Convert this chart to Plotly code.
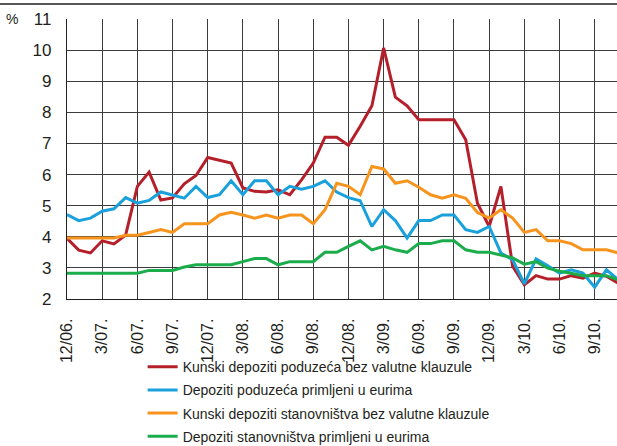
import plotly.graph_objects as go

# Monthly observations, 12/2006 .. 11/2010 (index 0 = 12/06)
months = list(range(48))
tick_pos = list(range(0, 46, 3))
tick_labels = ["12/06.", "3/07.", "6/07.", "9/07.", "12/07.", "3/08.", "6/08.", "9/08.",
               "12/08.", "3/09.", "6/09.", "9/09.", "12/09.", "3/10.", "6/10.", "9/10."]

kunski_poduzeca = [3.95, 3.57, 3.48, 3.87, 3.77, 4.05, 5.62, 6.08, 5.18, 5.25,
                   5.70, 5.97, 6.55, 6.45, 6.37, 5.57, 5.46, 5.44, 5.51, 5.35,
                   5.83, 6.37, 7.20, 7.20, 6.94, 7.55, 8.21, 10.07, 8.49, 8.21,
                   7.76, 7.76, 7.76, 7.76, 7.12, 5.08, 4.33, 5.62, 3.05, 2.46,
                   2.75, 2.64, 2.64, 2.75, 2.67, 2.83, 2.73, 2.51]
euro_poduzeca = [4.71, 4.52, 4.60, 4.82, 4.90, 5.26, 5.08, 5.17, 5.44, 5.35,
                 5.24, 5.62, 5.26, 5.35, 5.80, 5.35, 5.80, 5.80, 5.35, 5.62,
                 5.53, 5.62, 5.80, 5.44, 5.26, 5.16, 4.33, 4.87, 4.52, 3.96,
                 4.52, 4.52, 4.70, 4.70, 4.23, 4.14, 4.33, 3.48, 3.26, 2.49,
                 3.29, 3.07, 2.83, 2.94, 2.83, 2.38, 2.94, 2.62]
kunski_stanovnistva = [3.96, 3.96, 3.96, 3.96, 3.96, 4.05, 4.05, 4.14, 4.23, 4.14,
                       4.42, 4.42, 4.42, 4.70, 4.79, 4.70, 4.60, 4.70, 4.60, 4.70,
                       4.70, 4.42, 4.87, 5.72, 5.62, 5.35, 6.26, 6.18, 5.72, 5.80,
                       5.59, 5.35, 5.24, 5.35, 5.24, 4.78, 4.60, 4.87, 4.60, 4.14,
                       4.23, 3.87, 3.87, 3.78, 3.58, 3.58, 3.58, 3.48]
euro_stanovnistva = [2.83, 2.83, 2.83, 2.83, 2.83, 2.83, 2.83, 2.92, 2.92, 2.92,
                     3.03, 3.10, 3.10, 3.10, 3.10, 3.20, 3.30, 3.30, 3.10, 3.20,
                     3.20, 3.20, 3.50, 3.50, 3.69, 3.87, 3.58, 3.69, 3.58, 3.50,
                     3.78, 3.78, 3.87, 3.87, 3.58, 3.50, 3.50, 3.42, 3.32, 3.12,
                     3.20, 2.99, 2.89, 2.83, 2.75, 2.75, 2.75, 2.62]

series = [
    ("Kunski depoziti poduzeća bez valutne klauzule", kunski_poduzeca, "#B51F2A"),
    ("Depoziti poduzeća primljeni u eurima", euro_poduzeca, "#1AA1DC"),
    ("Kunski depoziti stanovništva bez valutne klauzule", kunski_stanovnistva, "#F7941E"),
    ("Depoziti stanovništva primljeni u eurima", euro_stanovnistva, "#1BAD4C"),
]

FONT = "Liberation Sans, Arial, sans-serif"

fig = go.Figure()
for i, (name, vals, col) in enumerate(series):
    fig.add_trace(go.Scatter(x=months, y=vals, mode="lines", name=name,
                             legendgroup=f"g{i}",
                             line=dict(color=col, width=3)))

grid = "#3c3c3c"
fig.update_layout(
    width=617, height=446,
    margin=dict(l=67, r=0, t=19, b=147, autoexpand=False),
    paper_bgcolor="white", plot_bgcolor="white",
    font=dict(family=FONT, color="#231f20", size=16),
    showlegend=True,
    legend=dict(orientation="v", x=0.1375, xanchor="left", y=-0.186, yanchor="top",
                font=dict(size=14, family=FONT, color="#231f20"),
                tracegroupgap=2, bgcolor="rgba(0,0,0,0)"),
    xaxis=dict(range=[0, 46.9], tickmode="array", tickvals=tick_pos, ticktext=tick_labels,
               tickangle=-90, showgrid=True, gridcolor=grid, gridwidth=1,
               showline=True, linecolor="#231f20", linewidth=1.3,
               zeroline=False, ticks="", ticklabelstandoff=12, automargin=False,
               tickfont=dict(size=16)),
    yaxis=dict(range=[2, 11], dtick=1, showgrid=True, gridcolor=grid, gridwidth=1,
               showline=True, linecolor="#231f20", linewidth=1.3,
               zeroline=False, ticks="", ticklabelstandoff=11, automargin=False,
               tickfont=dict(size=17)),
    shapes=[dict(type="line", xref="paper", yref="paper", layer="above",
                 x0=-67/550, x1=1, y0=1 + 15/280, y1=1 + 15/280,
                 line=dict(color="#231f20", width=1.5))],
    annotations=[dict(text="%", xref="paper", yref="paper", x=-55/550, y=1.0,
                      xanchor="center", yanchor="middle", showarrow=False,
                      font=dict(size=14))],
)

fig.write_html("out.html", config={"displayModeBar": False},
               post_script="document.body.style.margin='0px';document.body.style.overflow='hidden';")
